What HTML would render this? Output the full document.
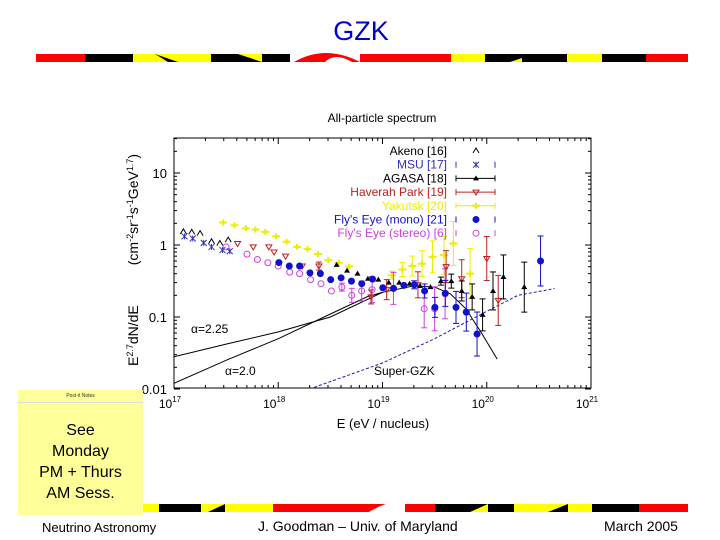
<!DOCTYPE html>
<html><head><meta charset="utf-8"><style>
body{margin:0;background:#fff;}
#slide{position:relative;width:720px;height:540px;overflow:hidden;background:#fff;font-family:"Liberation Sans",sans-serif;}
.abs{position:absolute;}
</style></head><body>
<div id="slide">
<div class="abs" style="left:0;width:722px;top:16px;text-align:center;font-size:27px;color:#0000cc;">GZK</div>
<svg class="abs" style="left:0;top:0" width="720" height="540">
 <g>
  <rect x="36" y="54" width="49" height="8" fill="#f00"/><rect x="85" y="54" width="48" height="8" fill="#000"/>
  <rect x="133" y="54" width="78" height="8" fill="#ff0"/><polygon points="155,54 178,62 168,62" fill="#000"/>
  <rect x="211" y="54" width="79" height="8" fill="#000"/><polygon points="238,54 262,62 262,54" fill="#ff0"/>
  <path d="M294,62 Q325,44 360,62 Z" fill="#f00"/><path d="M325,62 Q335,52 352,62Z" fill="#fff"/>
  <rect x="360" y="54" width="91" height="8" fill="#f00"/><rect x="451" y="54" width="34" height="8" fill="#ff0"/>
  <rect x="485" y="54" width="82" height="8" fill="#000"/><polygon points="485,54 522,62 522,54" fill="#000"/><polygon points="510,62 522,62 522,58" fill="#ff0"/>
  <rect x="567" y="54" width="35" height="8" fill="#ff0"/><rect x="602" y="54" width="44" height="8" fill="#000"/>
  <rect x="646" y="54" width="42" height="8" fill="#f00"/>
 </g>
 <g>
  <rect x="142" y="504" width="17" height="8" fill="#ff0"/><rect x="159" y="504" width="42" height="8" fill="#000"/>
  <rect x="201" y="504" width="39" height="8" fill="#ff0"/><polygon points="208,512 225,504 225,512" fill="#000"/>
  <rect x="240" y="504" width="33" height="8" fill="#ff0"/>
  <rect x="273" y="504" width="162" height="8" fill="#f00"/><path d="M369,512 Q392,498 405,504 L405,512Z" fill="#fff"/>
  <rect x="435" y="504" width="79" height="8" fill="#000"/><polygon points="470,512 488,504 488,512" fill="#ff0"/>
  <rect x="514" y="504" width="78" height="8" fill="#ff0"/><polygon points="548,512 568,504 568,512" fill="#000"/>
  <rect x="592" y="504" width="47" height="8" fill="#000"/><rect x="639" y="504" width="49" height="8" fill="#f00"/>
 </g>
</svg>
<svg class="abs" id="chart" style="left:0;top:0" width="720" height="540"></svg>
<div class="abs" style="left:18px;top:390px;width:125px;height:125px;background:#ffff99;">
 <div style="font-size:5px;text-align:center;margin-top:3px;border-bottom:1px solid #ddd;padding-bottom:3px;color:#333">Post-it Notes</div>
 <div style="text-align:center;font-size:16px;line-height:21px;margin-top:17px;">See<br>Monday<br>PM + Thurs<br>AM Sess.</div>
</div>
<div class="abs" style="left:42px;top:520px;font-size:13px;">Neutrino Astronomy</div>
<div class="abs" style="left:258px;top:518px;font-size:14px;">J. Goodman – Univ. of Maryland</div>
<div class="abs" style="left:604px;top:518px;font-size:14px;">March 2005</div>
</div>
<script>
const xDecades=[17,18,19,20,21];
const yDecades=[-2,-1,0,1];
const yTickLabels=["0.01","0.1","1","10"];
const monoE=[18.006,18.106,18.205,18.304,18.404,18.503,18.603,18.702,18.801,18.904,19.003,19.106,19.205,19.304,19.404,19.503,19.603,19.705,19.804,19.907,20.516];
const monoF=[0.57,0.51,0.51,0.41,0.40,0.33,0.35,0.315,0.29,0.336,0.255,0.25,0.275,0.28,0.23,0.136,0.213,0.136,0.117,0.058,0.60];
const agasaE=[18.56,18.66,18.76,18.86,18.96,19.06,19.16,19.26,19.36,19.46,19.56,19.66,19.76,19.86,19.96,20.06,20.16,20.36];
const agasaF=[0.53,0.44,0.40,0.34,0.33,0.30,0.30,0.29,0.27,0.26,0.315,0.315,0.23,0.19,0.107,0.23,0.36,0.26];
const hpE=[17.61,17.76,17.91,17.96,18.07,18.23,18.39,18.89,19.04,19.34,19.61,19.76,20.0,20.11];
const hpF=[1.05,0.94,0.94,0.80,0.70,0.51,0.51,0.19,0.24,0.28,0.50,0.34,0.65,0.17];
const yakE=[17.47,17.58,17.69,17.78,17.875,17.98,18.08,18.18,18.28,18.38,18.48,18.58,18.68,19.09,19.19,19.285,19.38,19.48,19.59,19.68,19.84];
const yakF=[2.05,1.88,1.70,1.64,1.52,1.32,1.11,0.94,0.875,0.746,0.617,0.567,0.50,0.38,0.457,0.51,0.55,0.685,0.72,1.05,0.40];
const msuE=[17.10,17.18,17.285,17.36,17.465,17.535];
const msuF=[1.32,1.23,1.07,0.94,0.85,0.82];
const akenoE=[17.09,17.17,17.25,17.36,17.44,17.52];
const akenoF=[1.52,1.50,1.44,1.11,1.05,1.17];
const stE=[17.50,17.70,17.80,17.90,18.00,18.11,18.205,18.31,18.41,18.51,18.61,18.705,18.80,18.90,19.105,19.40,19.50,19.60];
const stF=[0.94,0.746,0.63,0.567,0.51,0.42,0.40,0.33,0.29,0.23,0.26,0.20,0.23,0.24,0.25,0.13,0.13,0.21];
const a225E=[17,17.5,18,18.5,19,19.3,19.5,19.65,19.8,19.95,20.1];
const a225F=[0.028,0.042,0.062,0.10,0.22,0.27,0.26,0.21,0.13,0.06,0.026];
const a20E=[17,17.5,18,18.5,18.85,19];
const a20F=[0.012,0.025,0.05,0.11,0.19,0.22];
const sgE=[18.3,19,19.5,20,20.3,20.6,20.65];
const sgF=[0.01,0.023,0.05,0.12,0.2,0.24,0.25];
const legendNames=["Akeno [16]","MSU [17]","AGASA [18]","Haverah Park [19]","Yakutsk [20]","Fly's Eye (mono) [21]","Fly's Eye (stereo) [6]"];
const legendColors=["#000","#3030c0","#000","#c02020","#eeee00","#1010d0","#d040e0"];

const X0=174,X1=591,Y0=138,Y1=388;
function sx(le){return X0+(le-17)*(X1-X0)/4;}
function sy(v){return 173+(1-Math.log10(v))*72;}
const svg=document.getElementById('chart');
const NS='http://www.w3.org/2000/svg';
function mk(tag,attrs,parent){const e=document.createElementNS(NS,tag);for(const k in attrs)e.setAttribute(k,attrs[k]);(parent||svg).appendChild(e);return e;}

let t=mk('text',{x:382,y:122,'text-anchor':'middle','font-size':12});t.textContent='All-particle spectrum';


const frame=mk('rect',{x:X0,y:Y0,width:X1-X0,height:Y1-Y0,fill:'none',stroke:'#000','stroke-width':1});


const tg=mk('g',{stroke:'#000','stroke-width':1});


for(let d=17;d<21;d++){for(let m=1;m<10;m++){const x=sx(d+Math.log10(m));const L=m==1?6:3;
 mk('line',{x1:x,x2:x,y1:Y1,y2:Y1-L},tg);mk('line',{x1:x,x2:x,y1:Y0,y2:Y0+L},tg);}}
for(let d=-2;d<2;d++){for(let m=1;m<10;m++){const v=Math.pow(10,d)*m;const y=sy(v);if(y<Y0)continue;const L=m==1?6:3;
 mk('line',{x1:X0,x2:X0+L,y1:y,y2:y},tg);mk('line',{x1:X1,x2:X1-L,y1:y,y2:y},tg);}}
xDecades.forEach(d=>{const g=mk('text',{x:sx(d)-4,y:408,'text-anchor':'middle','font-size':12});
 
 
 g.innerHTML='10<tspan dy="-6" font-size="8">'+d+'</tspan>';});
yDecades.forEach((d,i)=>{const g=mk('text',{x:167,y:sy(Math.pow(10,d))+5,'text-anchor':'end','font-size':13});
 
 
 g.textContent=yTickLabels[i];});
t=mk('text',{x:383,y:428,'text-anchor':'middle','font-size':13});t.setAttribute('xml:space','preserve');t.textContent='E    (eV / nucleus)';


t=mk('text',{x:0,y:0,'text-anchor':'middle','font-size':14,transform:'translate(138,260) rotate(-90)'});
t.innerHTML='E<tspan dy="-5" font-size="9">2.7</tspan><tspan dy="5">dN/dE</tspan><tspan dx="40">(cm</tspan><tspan dy="-5" font-size="9">-2</tspan><tspan dy="5">sr</tspan><tspan dy="-5" font-size="9">-1</tspan><tspan dy="5">s</tspan><tspan dy="-5" font-size="9">-1</tspan><tspan dy="5">GeV</tspan><tspan dy="-5" font-size="9">1.7</tspan><tspan dy="5">)</tspan>';



const clip=mk('clipPath',{id:'pc'});mk('rect',{x:X0,y:Y0,width:X1-X0,height:Y1-Y0},clip);
function line(E,F,attrs,name){const d=E.map((e,i)=>(i?'L':'M')+sx(e).toFixed(1)+','+sy(F[i]).toFixed(1)).join('');
 const p=mk('path',Object.assign({d:d,fill:'none','clip-path':'url(#pc)'},attrs));
 
 }
line(a225E,a225F,{stroke:'#000','stroke-width':1},'alpha-2.25-curve');
line(a20E,a20F,{stroke:'#000','stroke-width':1},'alpha-2.0-curve');
line(sgE,sgF,{stroke:'#2020a0','stroke-width':1,'stroke-dasharray':'3,2'},'super-gzk-curve');
[['α=2.25',191,333],['α=2.0',225,375],['Super-GZK',374,375]].forEach(a=>{const q=mk('text',{x:a[1],y:a[2],'font-size':12});q.textContent=a[0];
 
 });

function sym(type,x,y,c,g){
 if(type=='tri')mk('path',{d:`M${x-3},${y+2}L${x},${y-3}L${x+3},${y+2}`,fill:'none',stroke:c},g);
 else if(type=='ftri')mk('path',{d:`M${x-3},${y+2}L${x},${y-3}L${x+3},${y+2}Z`,fill:c},g);
 else if(type=='dtri')mk('path',{d:`M${x-3},${y-2}L${x},${y+3}L${x+3},${y-2}Z`,fill:'none',stroke:c},g);
 else if(type=='star')mk('path',{d:`M${x-3},${y-3}L${x+3},${y+3}M${x-3},${y+3}L${x+3},${y-3}M${x},${y-3}L${x},${y+3}`,stroke:c},g);
 else if(type=='plus')mk('path',{d:`M${x-4},${y}L${x+4},${y}M${x},${y-3}L${x},${y+3}`,stroke:c,'stroke-width':2},g);
 else if(type=='dot')mk('circle',{cx:x,cy:y,r:3.5,fill:c},g);
 else if(type=='circ')mk('circle',{cx:x,cy:y,r:3,fill:'none',stroke:c},g);
}
function series(E,F,type,c,name){const g=mk('g',{});
 
 
 E.forEach((e,i)=>{const x=sx(e),y=sy(F[i]);
  if(i>=E.length-8&&type!='star'&&type!='tri'){const eh=4+ (i-(E.length-8))*3;mk('line',{x1:x,x2:x,y1:y-eh,y2:y+eh,stroke:c},g);mk('line',{x1:x-3,x2:x+3,y1:y-eh,y2:y-eh,stroke:c},g);mk('line',{x1:x-3,x2:x+3,y1:y+eh,y2:y+eh,stroke:c},g);}
  sym(type,x,y,c,g);});}
series(yakE,yakF,'plus','#eeee00','series-yakutsk');
series(stE,stF,'circ','#d040e0','series-flys-eye-stereo');
series(hpE,hpF,'dtri','#c02020','series-haverah-park');
series(agasaE,agasaF,'ftri','#000','series-agasa');
series(monoE,monoF,'dot','#1010d0','series-flys-eye-mono');
series(msuE,msuF,'star','#3030c0','series-msu');
series(akenoE,akenoF,'tri','#000','series-akeno');

const lg=mk('g',{});


const ltypes=['tri','star','ftri','dtri','plus','dot','circ'];
legendNames.forEach((n,i)=>{const y=151+i*13.7;const e=mk('g',{},lg);
 
 
 const q=mk('text',{x:447,y:y+4,'text-anchor':'end','font-size':12,fill:legendColors[i]},e);q.textContent=n;
 if(i==2||i==3||i==4)mk('line',{x1:456,x2:495,y1:y,y2:y,stroke:legendColors[i]},e);
 if(i>0){mk('line',{x1:456,x2:456,y1:y-3,y2:y+3,stroke:legendColors[i]},e);mk('line',{x1:495,x2:495,y1:y-3,y2:y+3,stroke:legendColors[i]},e);}
 sym(ltypes[i],476,y,legendColors[i],e);});
</script>
</body></html>
